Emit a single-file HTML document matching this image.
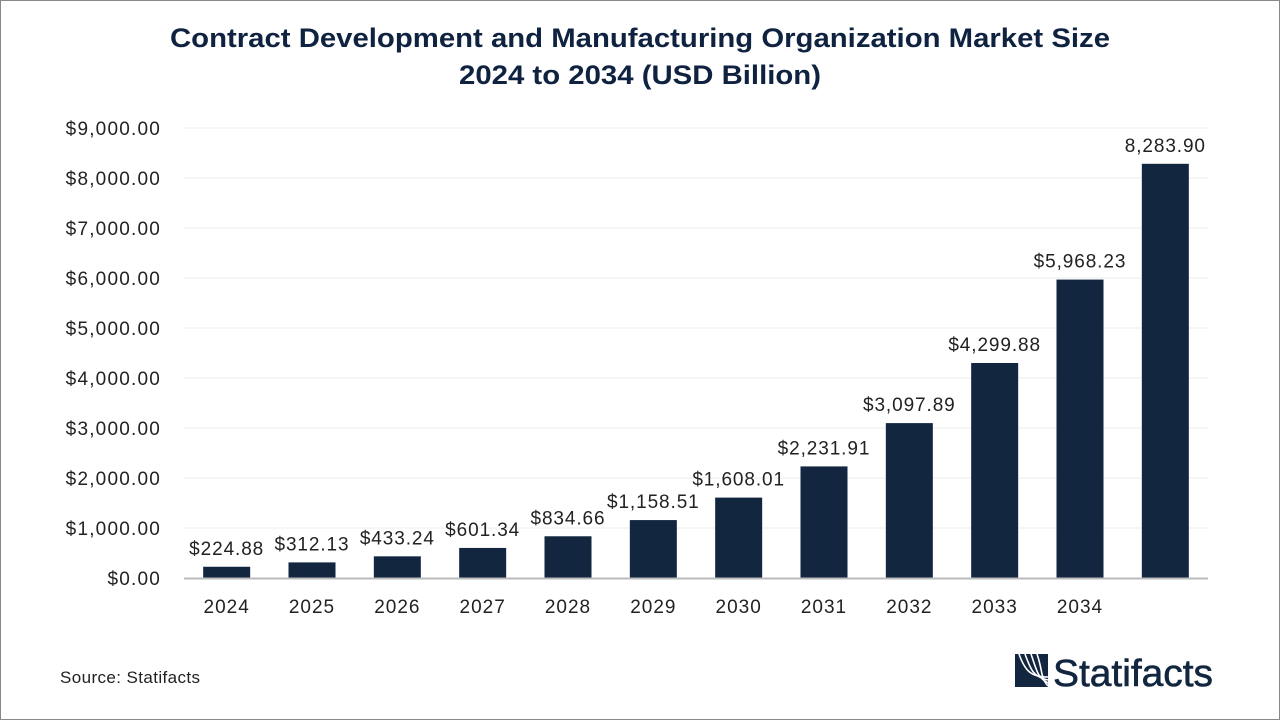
<!DOCTYPE html>
<html><head><meta charset="utf-8"><style>
body{margin:0;background:#fff;}
#wrap{position:relative;width:1278px;height:718px;border:1px solid #888;background:#fff;overflow:hidden;font-family:"Liberation Sans",sans-serif;}
</style></head><body>
<div id="wrap">
<svg id="chart" width="1278" height="718"></svg>
</div>
<script>
const categories=["2024","2025","2026","2027","2028","2029","2030","2031","2032","2033","2034",""];
const values=[224.88,312.13,433.24,601.34,834.66,1158.51,1608.01,2231.91,3097.89,4299.88,5968.23,8283.90];
const valueLabels=["$224.88","$312.13","$433.24","$601.34","$834.66","$1,158.51","$1,608.01","$2,231.91","$3,097.89","$4,299.88","$5,968.23","8,283.90"];
const yTicks=[0,1000,2000,3000,4000,5000,6000,7000,8000,9000];
const yTickLabels=["$0.00","$1,000.00","$2,000.00","$3,000.00","$4,000.00","$5,000.00","$6,000.00","$7,000.00","$8,000.00","$9,000.00"];
const svg=document.getElementById('chart');const NS='http://www.w3.org/2000/svg';
const X0=183,X1=1207,Y0=577,Y1=127,MAX=9000;
const band=(X1-X0)/categories.length,bw=47;
const y=v=>Y0-(v/MAX)*(Y0-Y1);
const xc=i=>X0+band*(i+0.5);
function mk(t,a,txt){const e=document.createElementNS(NS,t);for(const k in a)e.setAttribute(k,a[k]);if(txt!==undefined)e.textContent=txt;svg.appendChild(e);return e;}
let t=mk('text',{x:639,y:46,'text-anchor':'middle','font-size':27,'font-weight':'bold',fill:'#0f2240',textLength:940,lengthAdjust:'spacingAndGlyphs'},'Contract Development and Manufacturing Organization Market Size');

t=mk('text',{x:639,y:83,'text-anchor':'middle','font-size':27,'font-weight':'bold',fill:'#0f2240',textLength:362,lengthAdjust:'spacingAndGlyphs'},'2024 to 2034 (USD Billion)');

yTicks.forEach((v,i)=>{
 if(v>0){const g=mk('line',{x1:X0,x2:X1,y1:y(v),y2:y(v),stroke:'#ececec','stroke-width':1});
 }
 const l=mk('text',{x:160,y:y(v)+7,'text-anchor':'end','font-size':19,'letter-spacing':1.2,fill:'#222'},yTickLabels[i]);
 
});
values.forEach((v,i)=>{
 const r=mk('rect',{x:xc(i)-bw/2,y:y(v),width:bw,height:Y0-y(v),fill:'#12263f'});
 
 const l=mk('text',{x:xc(i),y:y(v)-12,'text-anchor':'middle','font-size':19,'letter-spacing':0.9,fill:'#222'},valueLabels[i]);
 
 if(categories[i]){const c=mk('text',{x:xc(i),y:612,'text-anchor':'middle','font-size':19,'letter-spacing':1,fill:'#222'},categories[i]);
 }
});
const ax=mk('line',{x1:X0,x2:X1,y1:Y0+0.5,y2:Y0+0.5,stroke:'#bbb','stroke-width':2});

t=mk('text',{x:59,y:682,'font-size':17,'letter-spacing':0.4,fill:'#222'},'Source: Statifacts');

const logo=mk('g',{});
const lr=document.createElementNS(NS,'rect');
[['x',1014],['y',653],['width',33],['height',33],['fill','#12263f']].forEach(a=>lr.setAttribute(a[0],a[1]));logo.appendChild(lr);
for(let k=0;k<4;k++){const p=document.createElementNS(NS,'path');
 p.setAttribute('d',`M${1018+k*6} 653 C${1024+k*6} 670 ${1030+k*3} 676 1047 ${676+k*3}`);
 p.setAttribute('stroke','#fff');p.setAttribute('stroke-width','1.6');p.setAttribute('fill','none');logo.appendChild(p);}
const lt=document.createElementNS(NS,'text');
[['x',1052],['y',685],['font-size',38],['fill','#12263f'],['stroke','#12263f'],['stroke-width','0.6'],['textLength','160'],['lengthAdjust','spacingAndGlyphs']].forEach(a=>lt.setAttribute(a[0],a[1]));lt.textContent='Statifacts';logo.appendChild(lt);
svg.appendChild(logo);
</script>
</body></html>
